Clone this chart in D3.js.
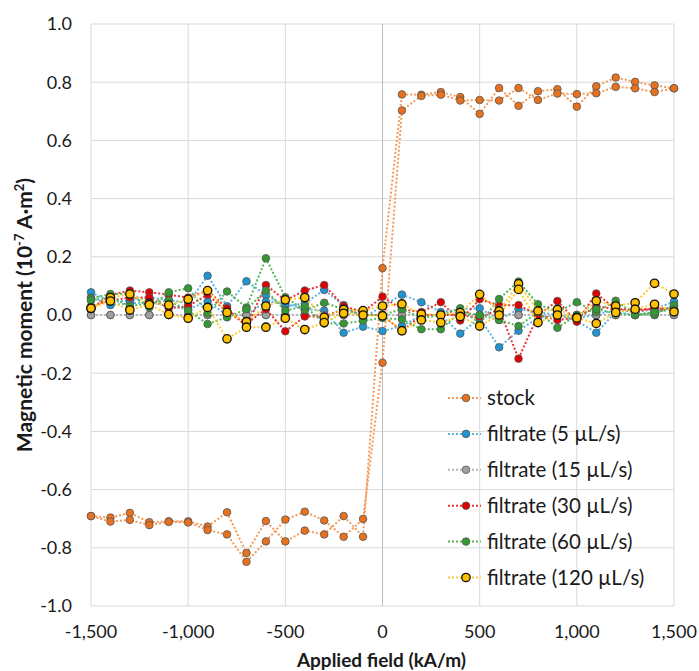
<!DOCTYPE html>
<html>
<head>
<meta charset="utf-8">
<script src="https://cdn.jsdelivr.net/npm/d3@7"></script>
<style>
    body { margin: 0; background: #fff; }
    text { font-family: Lato, "Open Sans", sans-serif; fill: #1a1a1a; }
</style>
</head>
<body>
<div id="draw_here"></div>
<script type="text/javascript">
    // Data, x in kA/m
    field = [-1500, -1400, -1300, -1200, -1100, -1000, -900, -800, -700, -600, -500, -400, -300, -200, -100,
        0, 100, 200, 300, 400, 500, 600, 700, 800, 900, 1000, 1100, 1200, 1300, 1400, 1500]

    // each series: branch a (swept down), branch b (swept up), same field order
    stock_a = [-0.691, -0.696, -0.680, -0.712, -0.709, -0.709, -0.727, -0.678, -0.818, -0.708, -0.778, -0.741, -0.754, -0.691, -0.762,
        0.161, 0.758, 0.757, 0.766, 0.749, 0.691, 0.780, 0.719, 0.769, 0.776, 0.716, 0.786, 0.816, 0.801, 0.789, 0.779]
    stock_b = [-0.691, -0.710, -0.704, -0.722, -0.711, -0.713, -0.739, -0.754, -0.848, -0.778, -0.703, -0.676, -0.706, -0.762, -0.701,
        -0.164, 0.703, 0.753, 0.757, 0.737, 0.739, 0.737, 0.780, 0.739, 0.761, 0.759, 0.762, 0.784, 0.779, 0.766, 0.779]

    f5_a = [0.078, 0.045, 0.050, 0.060, 0.052, 0.040, 0.135, 0.030, 0.116, 0.069, 0.030, 0.040, 0.086, 0.034, -0.010,
        0.030, 0.070, 0.044, 0.010, 0.020, 0.023, -0.017, 0.020, 0.010, 0.000, -0.010, 0.000, 0.020, 0.010, 0.020, 0.046]
    f5_b = [0.060, 0.034, 0.040, 0.045, 0.030, 0.020, 0.046, 0.000, 0.000, 0.046, 0.040, 0.020, 0.015, -0.061, -0.040,
        -0.055, -0.038, 0.000, 0.000, -0.064, -0.010, -0.111, -0.054, -0.010, 0.000, -0.020, -0.061, 0.010, 0.000, 0.010, 0.030]

    f15_a = [0, 0, 0, 0, 0, 0, 0, 0, 0, 0, 0, 0, 0, 0, 0, 0, 0, 0, 0, 0, 0, 0, 0, 0, 0, 0, 0, 0, 0, 0, 0]
    f15_b = [0, 0, 0, 0, 0, 0, 0, 0, 0, 0, 0, 0, 0, 0, 0, 0, 0, 0, 0, 0, 0, 0, 0, 0, 0, 0, 0, 0, 0, 0, 0]

    f30_a = [0.020, 0.069, 0.084, 0.078, 0.070, 0.060, 0.084, 0.023, -0.040, 0.103, 0.050, 0.084, 0.103, 0.031, 0.010,
        0.063, 0.020, 0.010, 0.044, -0.019, 0.054, 0.033, 0.034, 0.000, 0.048, -0.023, 0.074, 0.020, 0.019, 0.020, 0.020]
    f30_b = [0.030, 0.050, 0.060, 0.060, 0.023, 0.030, 0.070, 0.010, -0.030, 0.020, -0.056, -0.005, -0.005, 0.020, 0.000,
        0.000, -0.056, 0.000, 0.000, 0.000, -0.010, 0.020, -0.150, 0.000, -0.017, -0.010, 0.030, 0.020, 0.010, 0.025, 0.020]

    f60_a = [0.057, 0.072, 0.072, 0.026, 0.078, 0.092, 0.006, 0.081, 0.026, 0.195, 0.061, 0.017, 0.042, 0.020, 0.000,
        0.000, 0.020, -0.010, 0.000, 0.023, -0.029, 0.055, 0.115, 0.037, 0.010, 0.044, 0.010, 0.049, 0.002, 0.002, 0.034]
    f60_b = [0.050, 0.060, 0.031, 0.040, 0.050, 0.015, -0.031, -0.008, 0.020, 0.084, 0.015, 0.030, -0.029, -0.029, -0.020,
        -0.010, -0.015, -0.049, -0.049, 0.010, 0.000, -0.017, -0.038, 0.010, -0.044, 0.000, 0.020, 0.005, 0.000, 0.010, 0.020]

    f120_a = [0.023, 0.060, 0.072, 0.040, 0.034, 0.054, 0.084, 0.009, -0.023, 0.031, 0.052, 0.060, -0.008, 0.019, 0.015,
        0.031, 0.038, 0.003, 0.000, 0.008, 0.071, 0.014, 0.107, 0.014, 0.019, -0.008, 0.049, 0.031, 0.042, 0.109, 0.072]
    f120_b = [0.023, 0.048, 0.017, 0.035, 0.002, -0.011, 0.026, -0.082, -0.042, -0.042, -0.011, -0.050, -0.026, 0.006, 0.000,
        -0.003, -0.054, -0.017, -0.026, -0.005, -0.038, 0.000, 0.088, -0.026, 0.000, -0.010, -0.029, 0.009, 0.020, 0.037, 0.011]

    series_names = ["stock", "filtrate (5 \u00b5L/s)", "filtrate (15 \u00b5L/s)", "filtrate (30 \u00b5L/s)",
        "filtrate (60 \u00b5L/s)", "filtrate (120 \u00b5L/s)"]
    series_a = [stock_a, f5_a, f15_a, f30_a, f60_a, f120_a]
    series_b = [stock_b, f5_b, f15_b, f30_b, f60_b, f120_b]
    fill_cols = ["#e8711e", "#1e96d4", "#a0a0a0", "#e00000", "#339933", "#ffc000"]
    line_cols = ["#f59a5a", "#5ab4e6", "#b8b8b8", "#f03030", "#55b855", "#ffcc33"]

    x_ticks = [-1500, -1000, -500, 0, 500, 1000, 1500]
    y_ticks = [-1.0, -0.8, -0.6, -0.4, -0.2, 0.0, 0.2, 0.4, 0.6, 0.8, 1.0]

    // Setup chart
    canvas = ({width: 699, height: 671})
    plot = ({left: 91, right: 674, top: 24, bottom: 606})

    x = d3.scaleLinear().domain([-1500, 1500]).range([plot.left, plot.right])
    y = d3.scaleLinear().domain([-1, 1]).range([plot.bottom, plot.top])

    var svg = d3.select("div#draw_here").append("svg")
        .attr("width", canvas.width)
        .attr("height", canvas.height)

    // gridlines
    svg.append("g").selectAll("line").data(y_ticks).join("line")
        .attr("x1", plot.left).attr("x2", plot.right)
        .attr("y1", d => y(d)).attr("y2", d => y(d))
        .attr("stroke", "#d9d9d9").attr("stroke-width", 1)
    svg.append("g").selectAll("line").data(x_ticks).join("line")
        .attr("x1", d => x(d)).attr("x2", d => x(d))
        .attr("y1", plot.top).attr("y2", plot.bottom)
        .attr("stroke", d => d == 0 ? "#bfbfbf" : "#d9d9d9").attr("stroke-width", 1)

    // tick labels
    svg.append("g").selectAll("text").data(y_ticks).join("text")
        .attr("x", plot.left - 19).attr("y", d => y(d)).attr("dy", "0.35em")
        .attr("text-anchor", "end").attr("font-size", 18)
        .text(d => d3.format(".1f")(d).replace("\u2212", "-"))
    svg.append("g").selectAll("text").data(x_ticks).join("text")
        .attr("x", d => x(d)).attr("y", 638)
        .attr("text-anchor", "middle").attr("font-size", 18)
        .text(d => d3.format(",")(d).replace("\u2212", "-"))

    // axis titles
    svg.append("text")
        .attr("x", (plot.left + plot.right) / 2 - 1).attr("y", 667)
        .attr("text-anchor", "middle").attr("font-size", 19).attr("font-weight", "bold")
        .text("Applied field (kA/m)")

    var yt = svg.append("text")
        .attr("transform", `translate(32,${(plot.top + plot.bottom) / 2}) rotate(-90)`)
        .attr("text-anchor", "middle").attr("font-size", 21).attr("font-weight", "bold")
    yt.append("tspan").text("Magnetic moment (10")
    yt.append("tspan").attr("font-size", 13).attr("dy", -8).text("-7")
    yt.append("tspan").attr("dy", 8).text(" A\u00b7m")
    yt.append("tspan").attr("font-size", 13).attr("dy", -8).text("2")
    yt.append("tspan").attr("dy", 8).text(")")

    // Draw series: down sweep then up sweep as one loop
    line = d3.line()
        .x(d => x(d[0]))
        .y(d => y(d[1]))

    series_names.forEach(function(name, i) {
        var down = d3.zip(field, series_a[i]).reverse()
        var up = d3.zip(field, series_b[i])
        var pts = down.concat(up)
        var g = svg.append("g")
        g.append("path")
            .attr("fill", "none")
            .attr("stroke", line_cols[i])
            .attr("stroke-width", 2)
            .attr("stroke-dasharray", "2,2")
            .attr("d", line(pts))
        g.selectAll("circle").data(pts).join("circle")
            .attr("cx", d => x(d[0]))
            .attr("cy", d => y(d[1]))
            .attr("r", i == 5 ? 4.2 : 3.8)
            .attr("fill", fill_cols[i])
            .attr("stroke", i == 5 ? "#111" : "#555")
            .attr("stroke-width", i == 5 ? 1.3 : 0.8)
    })

    // Legend
    var legend = svg.append("g")
    series_names.forEach(function(name, i) {
        var ly = 398 + i * 35.9
        legend.append("line")
            .attr("x1", 448).attr("x2", 481).attr("y1", ly).attr("y2", ly)
            .attr("stroke", line_cols[i]).attr("stroke-width", 2)
            .attr("stroke-dasharray", "2,2")
        legend.append("circle")
            .attr("cx", 466).attr("cy", ly)
            .attr("r", i == 5 ? 4.2 : 3.8)
            .attr("fill", fill_cols[i])
            .attr("stroke", i == 5 ? "#111" : "#555")
            .attr("stroke-width", i == 5 ? 1.3 : 0.8)
        legend.append("text")
            .attr("x", 487).attr("y", ly).attr("dy", "0.35em")
            .attr("font-size", 20.5)
            .text(name)
    })
</script>
</body>
</html>
